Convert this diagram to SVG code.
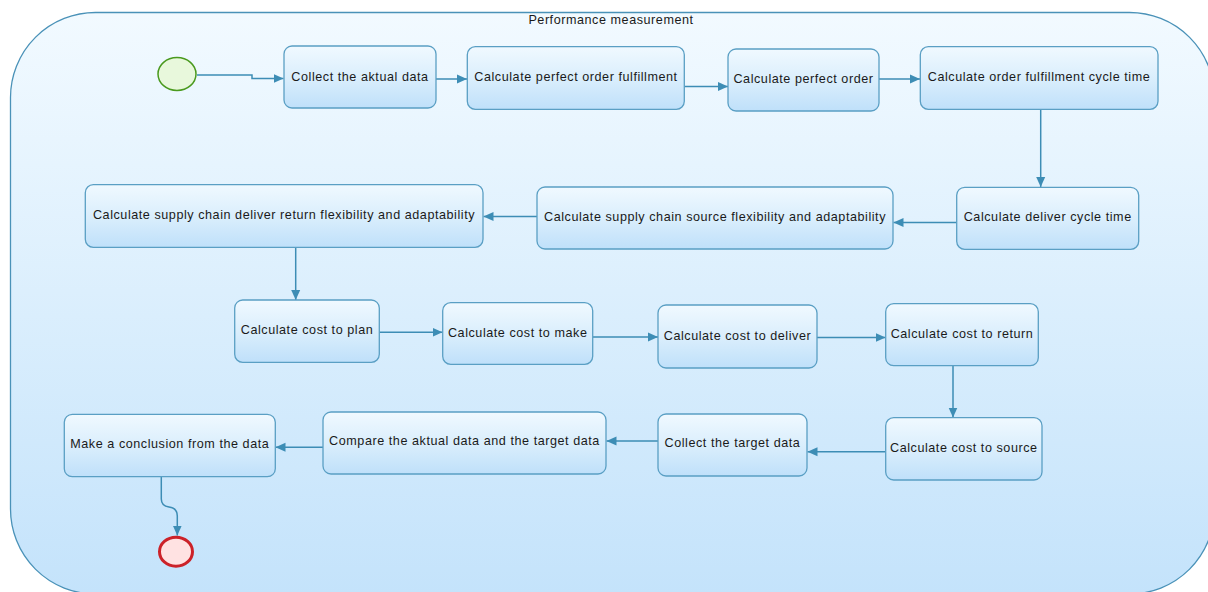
<svg xmlns="http://www.w3.org/2000/svg" width="1208" height="592" viewBox="0 0 1208 592">
<defs>
<linearGradient id="bg" x1="0" y1="0" x2="0" y2="1">
<stop offset="0" stop-color="#f2faff"/>
<stop offset="1" stop-color="#c4e3fb"/>
</linearGradient>
<linearGradient id="nodefill" x1="0" y1="0" x2="0" y2="1">
<stop offset="0" stop-color="#f0f9ff"/>
<stop offset="0.55" stop-color="#d8edfc"/>
<stop offset="1" stop-color="#bfe0fa"/>
</linearGradient>
<marker id="arr" viewBox="0 0 10 10" refX="10" refY="5" markerWidth="10" markerHeight="10" markerUnits="userSpaceOnUse" orient="auto">
<path d="M0,0.5 L10,5 L0,9.5 Z" fill="#3d8db5"/>
</marker>
<style>
.box{fill:url(#nodefill);stroke:#5a9fc4;stroke-width:1.3}
.lbl{font-family:"Liberation Sans",Arial,sans-serif;font-size:12.6px;letter-spacing:0.55px;fill:#1a1a1a;text-anchor:middle;dominant-baseline:central}
.edge{fill:none;stroke:#3d8db5;stroke-width:1.5;marker-end:url(#arr)}
</style>
</defs>
<g id="container">
<rect x="10.5" y="12.5" width="1204" height="581.5" rx="85" ry="85" fill="url(#bg)" stroke="#4a92b8" stroke-width="1.3"/>
<text x="611" y="20" class="lbl">Performance measurement</text>
</g>
<g id="connectors">
<path class="edge" d="M197,75 H252 V78.5 H283.5"/>
<path class="edge" d="M436,79 H467"/>
<path class="edge" d="M684.5,86.5 H728"/>
<path class="edge" d="M879,79 H920"/>
<path class="edge" d="M1040.7,109.5 V187"/>
<path class="edge" d="M956.5,222.5 H893.5"/>
<path class="edge" d="M537,216.5 H483.5"/>
<path class="edge" d="M295.7,247.5 V300"/>
<path class="edge" d="M379.5,332.3 H442.5"/>
<path class="edge" d="M593,337 H658"/>
<path class="edge" d="M817,337.5 H885.5"/>
<path class="edge" d="M953,366 V417.5"/>
<path class="edge" d="M885.5,451.7 H807.5"/>
<path class="edge" d="M658,441 H606.5"/>
<path class="edge" d="M323,447.3 H275.5"/>
<path class="edge" d="M161.3,477 V499 Q161.3,506 169,507 Q177.3,508 177.3,516 V535.5"/>
</g>
<g id="start">
<ellipse cx="177" cy="74" rx="19" ry="16.5" fill="#e8f8dc" stroke="#4a9a1e" stroke-width="1.5"/>
</g>
<g id="n1"><rect class="box" x="284" y="46" width="152" height="62" rx="8"/><text class="lbl" x="360" y="77">Collect the aktual data</text></g>
<g id="n2"><rect class="box" x="467.3" y="46.7" width="217" height="62.6" rx="8"/><text class="lbl" x="576" y="77">Calculate perfect order fulfillment</text></g>
<g id="n3"><rect class="box" x="728" y="49" width="151" height="62" rx="8"/><text class="lbl" x="803.5" y="79">Calculate perfect order</text></g>
<g id="n4"><rect class="box" x="920.3" y="46.7" width="237.7" height="62.6" rx="8"/><text class="lbl" x="1039" y="77">Calculate order fulfillment cycle time</text></g>
<g id="n5"><rect class="box" x="956.7" y="187.3" width="182" height="62" rx="8"/><text class="lbl" x="1047.7" y="217">Calculate deliver cycle time</text></g>
<g id="n6"><rect class="box" x="537" y="187" width="356" height="62" rx="8"/><text class="lbl" x="715" y="217">Calculate supply chain source flexibility and adaptability</text></g>
<g id="n7"><rect class="box" x="85.3" y="184.7" width="397.7" height="62.6" rx="8"/><text class="lbl" x="284" y="215">Calculate supply chain deliver return flexibility and adaptability</text></g>
<g id="n8"><rect class="box" x="234.7" y="300" width="144.6" height="62.3" rx="8"/><text class="lbl" x="307" y="330">Calculate cost to plan</text></g>
<g id="n9"><rect class="box" x="442.7" y="302.7" width="150" height="61.6" rx="8"/><text class="lbl" x="517.7" y="333">Calculate cost to make</text></g>
<g id="n10"><rect class="box" x="658" y="305" width="159" height="63" rx="8"/><text class="lbl" x="737.5" y="336">Calculate cost to deliver</text></g>
<g id="n11"><rect class="box" x="885.7" y="303.7" width="152.6" height="62" rx="8"/><text class="lbl" x="962" y="334">Calculate cost to return</text></g>
<g id="n12"><rect class="box" x="885.7" y="417.7" width="156.3" height="62.3" rx="8"/><text class="lbl" x="963.8" y="448">Calculate cost to source</text></g>
<g id="n13"><rect class="box" x="658" y="414" width="149" height="62" rx="8"/><text class="lbl" x="732.5" y="443">Collect the target data</text></g>
<g id="n14"><rect class="box" x="323" y="412" width="283" height="62" rx="8"/><text class="lbl" x="464.5" y="441">Compare the aktual data and the target data</text></g>
<g id="n15"><rect class="box" x="64.3" y="414.3" width="211" height="62.4" rx="8"/><text class="lbl" x="169.8" y="444">Make a conclusion from the data</text></g>
<g id="end">
<ellipse cx="176" cy="551.7" rx="16.5" ry="14.5" fill="#ffe2e2" stroke="#cc2229" stroke-width="3"/>
</g>
</svg>
